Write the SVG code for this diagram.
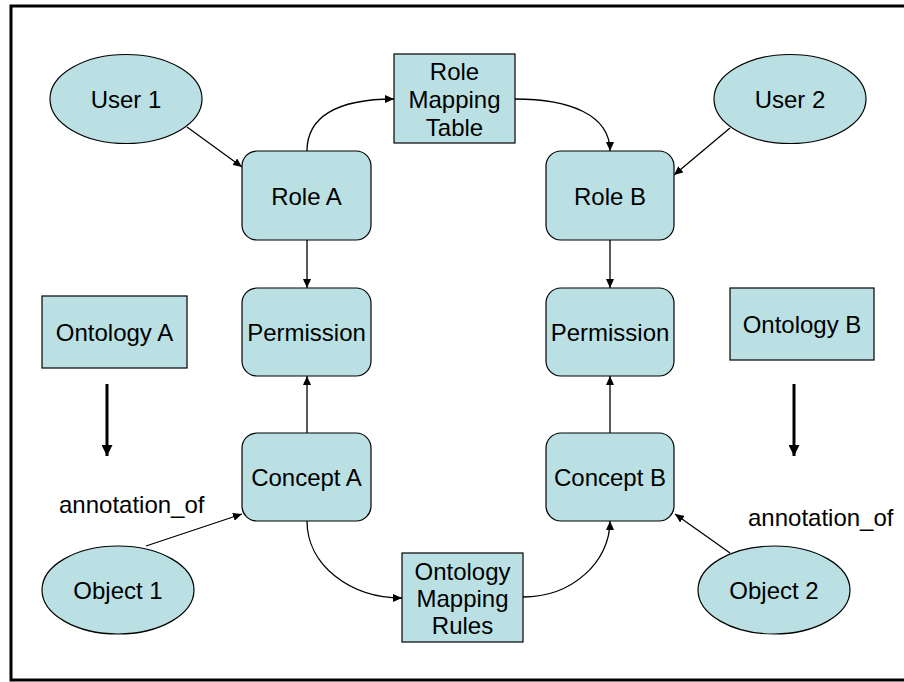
<svg xmlns="http://www.w3.org/2000/svg" width="904" height="682" viewBox="0 0 904 682">
  <style>
    .node { fill: #BBE0E3; stroke: #000; stroke-width: 1.2; }
    .lbl { font-family: "Liberation Sans", Arial, sans-serif; font-size: 24px; fill: #000; text-anchor: middle; }
    .free { font-family: "Liberation Sans", Arial, sans-serif; font-size: 24px; fill: #000; }
    .edge { fill: none; stroke: #000; stroke-width: 1.3; marker-end: url(#arr); }
    .thick { fill: none; stroke: #000; stroke-width: 3; marker-end: url(#arrBig); }
  </style>
  <defs>
    <marker id="arr" markerUnits="userSpaceOnUse" markerWidth="9" markerHeight="8" refX="9" refY="4" orient="auto">
      <path d="M0,0 L9,4 L0,8 z" fill="#000"/>
    </marker>
    <marker id="arrBig" markerUnits="userSpaceOnUse" markerWidth="11" markerHeight="11" refX="11" refY="5.5" orient="auto">
      <path d="M0,0 L11,5.5 L0,11 z" fill="#000"/>
    </marker>
  </defs>

  <rect x="0" y="0" width="904" height="682" fill="#fff"/>
  <!-- outer frame -->
  <rect x="11" y="6" width="900" height="674" fill="none" stroke="#000" stroke-width="3"/>

  <g id="connectors">
    <line class="edge" x1="187" y1="127" x2="242" y2="167"/>
    <path class="edge" d="M307,151 C307,118 335,99 394,99"/>
    <path class="edge" d="M515,99 C570,99 610,115 610,151"/>
    <line class="edge" x1="730" y1="128" x2="674" y2="175"/>
    <line class="edge" x1="307" y1="240" x2="307" y2="288"/>
    <line class="edge" x1="610" y1="240" x2="610" y2="288"/>
    <line class="edge" x1="307" y1="433" x2="307" y2="376"/>
    <line class="edge" x1="610" y1="433" x2="610" y2="376"/>
    <line class="edge" x1="146" y1="546" x2="242" y2="514"/>
    <path class="edge" d="M307,521 C307,565 350,598 402,598"/>
    <path class="edge" d="M523,597 C572,597 610,562 610,521"/>
    <line class="edge" x1="730" y1="553" x2="675" y2="514"/>
    <line class="thick" x1="107" y1="384" x2="107" y2="456"/>
    <line class="thick" x1="794" y1="384" x2="794" y2="456"/>
  </g>

  <g id="user1">
    <ellipse class="node" cx="126" cy="99" rx="76" ry="44.5"/>
    <text class="lbl" x="126" y="108">User 1</text>
  </g>
  <g id="user2">
    <ellipse class="node" cx="790" cy="99" rx="76" ry="44.5"/>
    <text class="lbl" x="790" y="108">User 2</text>
  </g>
  <g id="roleMappingTable">
    <rect class="node" x="394" y="54" width="121" height="89"/>
    <text class="lbl" x="454.5" y="80">Role</text>
    <text class="lbl" x="454.5" y="108">Mapping</text>
    <text class="lbl" x="454.5" y="136">Table</text>
  </g>
  <g id="roleA">
    <rect class="node" x="242" y="151" width="129" height="89" rx="15"/>
    <text class="lbl" x="306.5" y="205">Role A</text>
  </g>
  <g id="roleB">
    <rect class="node" x="546" y="151" width="128" height="89" rx="15"/>
    <text class="lbl" x="610" y="205">Role B</text>
  </g>
  <g id="permissionA">
    <rect class="node" x="242" y="288" width="129" height="88" rx="15"/>
    <text class="lbl" x="306.5" y="341">Permission</text>
  </g>
  <g id="permissionB">
    <rect class="node" x="546" y="288" width="128" height="88" rx="15"/>
    <text class="lbl" x="610" y="341">Permission</text>
  </g>
  <g id="ontologyA">
    <rect class="node" x="42" y="296" width="145" height="72"/>
    <text class="lbl" x="114.5" y="341">Ontology A</text>
  </g>
  <g id="ontologyB">
    <rect class="node" x="730" y="288" width="144" height="72"/>
    <text class="lbl" x="802" y="333">Ontology B</text>
  </g>
  <g id="conceptA">
    <rect class="node" x="242" y="433" width="129" height="88" rx="15"/>
    <text class="lbl" x="306.5" y="486">Concept A</text>
  </g>
  <g id="conceptB">
    <rect class="node" x="546" y="433" width="128" height="88" rx="15"/>
    <text class="lbl" x="610" y="486">Concept B</text>
  </g>
  <g id="object1">
    <ellipse class="node" cx="118" cy="590" rx="76" ry="44"/>
    <text class="lbl" x="118" y="599">Object 1</text>
  </g>
  <g id="object2">
    <ellipse class="node" cx="774" cy="590" rx="76" ry="44"/>
    <text class="lbl" x="774" y="599">Object 2</text>
  </g>
  <g id="ontologyMappingRules">
    <rect class="node" x="402" y="553" width="121" height="89"/>
    <text class="lbl" x="462.5" y="580">Ontology</text>
    <text class="lbl" x="462.5" y="607">Mapping</text>
    <text class="lbl" x="462.5" y="634">Rules</text>
  </g>

  <g id="labels">
    <text class="free" x="59" y="513">annotation_of</text>
    <text class="free" x="748" y="526">annotation_of</text>
  </g>
</svg>
